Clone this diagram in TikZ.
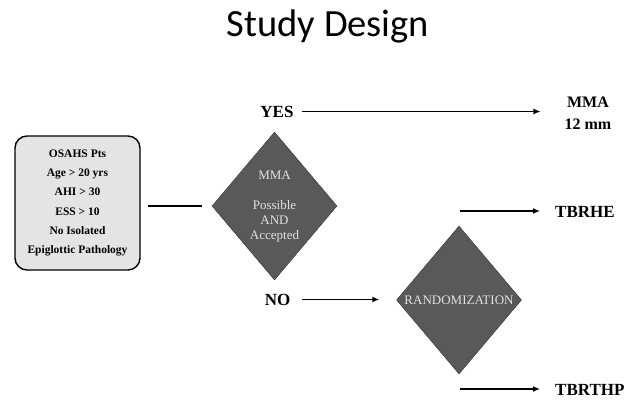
\documentclass[tikz,border=0pt]{standalone}
\usepackage{fontspec}
\setmainfont{Liberation Serif}
\newfontfamily\titlefont{Carlito}
\usepackage{tikz}
\usetikzlibrary{arrows.meta,positioning,shapes.geometric}
\definecolor{boxgray}{HTML}{E4E4E4}
\definecolor{diagray}{HTML}{595959}
\definecolor{dtextgray}{HTML}{E2E2E2}
\tikzset{
  sdbox/.style={draw,line width=1.4pt,rounded corners=12pt,fill=boxgray,align=center,
    minimum width=125pt,minimum height=134pt,inner sep=0pt,
    font=\fontsize{11.5}{19.3}\selectfont\bfseries},
  sddec/.style={diamond,draw=black!80,fill=diagray,inner sep=0pt,
    minimum width=125pt,minimum height=148pt},
  sddectxt/.style={align=center,text=dtextgray,inner sep=0pt,
    font=\fontsize{13}{15}\selectfont},
  sdlabel/.style={font=\fontsize{17}{21}\selectfont\bfseries,align=center,inner sep=0pt},
  sdline/.style={line width=1.3pt},
  sdflow/.style={sdline,-{Latex[length=7pt,width=6pt]}},
}

\begin{document}
\begin{tikzpicture}[x=1pt,y=-1pt]
\useasboundingbox (0,0) rectangle (626,401);
\node[font=\titlefont\fontsize{38.5}{40}\selectfont,anchor=base,inner sep=0pt] (title) at (328,37) {Study Design};
\node[sdbox] (osahs) at (77.5,203) {OSAHS Pts\\Age > 20 yrs\\AHI > 30\\ESS > 10\\No Isolated\\Epiglottic Pathology};
\node[sddec] (mma) at (274.5,206) {};
\node[sddectxt] (mmatxt) at (274.5,207) {MMA\\[15pt]Possible\\AND\\Accepted};
\node[sdlabel] (yes) at (277,111.5) {YES};
\node[sdlabel,font=\fontsize{16}{22}\selectfont\bfseries] (mmares) at (588,113) {MMA\\12 mm};
\node[sdlabel] (no) at (277.5,299.5) {NO};
\node[sddec] (rand) at (459,300) {};
\node[sddectxt] (randtxt) at (rand) {RANDOMIZATION};
\node[sdlabel,anchor=west] (tbrhe) at (555,211.5) {TBRHE};
\node[sdlabel,anchor=west] (tbrthp) at (555,390) {TBRTHP};
\coordinate (hestart) at (460,211);
\coordinate (thpstart) at (460,389);
\draw[sdline,shorten <=7pt,shorten >=10pt] (osahs.east |- mma) -- (mma.west);
\draw[sdflow,shorten <=8pt,shorten >=24pt] (yes.east) -- (mmares.west |- yes.east);
\draw[sdflow,shorten <=12pt,shorten >=17pt] (no.east) -- (rand.west |- no.east);
\draw[sdflow,shorten >=15pt] (hestart) -- (tbrhe.west |- hestart);
\draw[sdflow,shorten >=15pt] (thpstart) -- (tbrthp.west |- thpstart);
\end{tikzpicture}
\end{document}
